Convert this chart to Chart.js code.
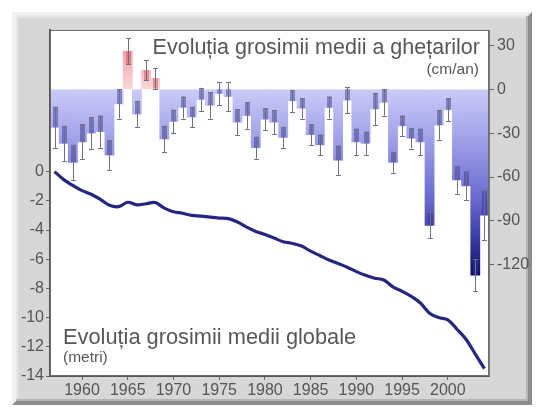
<!DOCTYPE html>
<html><head><meta charset="utf-8">
<script src="https://cdn.jsdelivr.net/npm/chart.js@4/dist/chart.umd.min.js"></script>
<style>
html,body{margin:0;padding:0;background:#fff;width:537px;height:410px;overflow:hidden;font-family:"Liberation Sans",Arial,sans-serif;}
#frame{position:absolute;left:12px;top:12px;width:512px;height:385px;background:#d7d7d7;border:4px solid;border-color:#f0f0f0 #8c8c8c #8c8c8c #f0f0f0;box-shadow:inset -2px -2px 0 #b5b5b5, inset 2px 2px 0 #e6e6e6;}
#wrap{position:absolute;left:0;top:0;width:537px;height:410px;}
.t{position:absolute;color:#575757;white-space:nowrap;line-height:1;}
</style></head><body>
<div id="frame"></div>
<div id="wrap"><canvas id="c" width="537" height="410"></canvas></div>
<div class="t" style="right:57px;top:37px;font-size:21.5px;">Evoluția grosimii medii a ghețarilor</div>
<div class="t" style="right:58px;top:61px;font-size:15.5px;">(cm/an)</div>
<div class="t" style="left:63px;top:326px;font-size:21.8px;">Evoluția grosimii medii globale</div>
<div class="t" style="left:63px;top:349px;font-size:15.5px;">(metri)</div>
<script>
const years = [];
for (let y = 1957; y <= 2004; y++) years.push(y);
// annual mean glacier thickness change (cm/an)
const balance = [-26,-37,-50,-36,-30,-29,-45,-10,26,-17,13,7.5,-34,-22,-12.5,-19,-7,-11,-3,-5,-22.5,-18,-40,-20.5,-22.5,-33,-8,-13,-31,-38,-12.5,-48.5,-7.5,-36,-37,-13.5,-9,-50,-25,-33.5,-36,-93,-24.5,-14,-62,-66,-127,-86];
// error half-widths (cm/an)
const balanceErr = [14,12,12,12,11,11,10,10,9,9,7,7,9,8,7.5,7,8,9,8,10,9,9,7.5,7.5,8,7,7.5,7,7,7,7.5,10,9,9,8,11,9,7,7,7,9,9,10,8,9.5,10,11,17];
// cumulative global mean thickness (metri)
const cumulative = [0,-0.55,-0.95,-1.3,-1.55,-1.9,-2.3,-2.4,-2.1,-2.28,-2.2,-2.12,-2.5,-2.75,-2.85,-3.0,-3.05,-3.12,-3.18,-3.22,-3.45,-3.8,-4.1,-4.3,-4.55,-4.8,-4.92,-5.1,-5.45,-5.75,-6.05,-6.3,-6.55,-6.85,-7.1,-7.3,-7.42,-7.9,-8.2,-8.55,-9.0,-9.7,-10.0,-10.15,-10.8,-11.5,-12.5,-13.5];
const leftTicks = [0,-2,-4,-6,-8,-10,-12,-14];
const rightTicks = [30,0,-30,-60,-90,-120];

function barColor(c){
  const ch = c.chart;
  if (!ch.chartArea) return '#aaaaee';
  const ys = ch.scales.y2;
  const v = c.raw;
  const y0 = ys.getPixelForValue(0);
  if (v >= 0){
    const g = ch.ctx.createLinearGradient(0, ys.getPixelForValue(30), 0, y0);
    g.addColorStop(0,'#f09ca2'); g.addColorStop(1,'#fcd6d8');
    return g;
  }
  const g = ch.ctx.createLinearGradient(0, y0, 0, ys.getPixelForValue(-130));
  g.addColorStop(0,'#cbcbf8');
  g.addColorStop(0.3,'#9a9ae6');
  g.addColorStop(0.55,'#6e6ed2');
  g.addColorStop(0.75,'#4242ae');
  g.addColorStop(1,'#0a0a66');
  return g;
}

const areaPlugin = {
  id:'area',
  beforeDraw(chart){
    const {ctx, chartArea:a} = chart;
    ctx.save(); ctx.fillStyle='#fff'; ctx.fillRect(a.left,a.top,a.right-a.left,a.bottom-a.top); ctx.restore();
  },
  afterDraw(chart){
    const {ctx, chartArea:a} = chart;
    ctx.save(); ctx.strokeStyle='#6e6e6e'; ctx.lineWidth=1;
    ctx.strokeRect(a.left+0.5,a.top+0.5,a.right-a.left-1,a.bottom-a.top-1); ctx.restore();
  }
};
const errPlugin = {
  id:'err',
  afterDatasetsDraw(chart){
    const meta = chart.getDatasetMeta(0);
    const ys = chart.scales.y2;
    const ctx = chart.ctx;
    ctx.save();
    meta.data.forEach((bar,i)=>{
      const v = balance[i], e = balanceErr[i];
      const x = Math.round(bar.x)+0.5;
      const yv = ys.getPixelForValue(v);
      const yt = ys.getPixelForValue(v+e), yb = ys.getPixelForValue(v-e);
      const yin = v < 0 ? ys.getPixelForValue(Math.min(v+e,0)) : ys.getPixelForValue(Math.max(v-e,0));
      ctx.fillStyle = v < 0 ? 'rgba(50,50,145,0.45)' : 'rgba(205,70,80,0.45)';
      ctx.fillRect(x-2.5, Math.min(yv,yin), 5, Math.abs(yin-yv));
      ctx.strokeStyle = '#707080'; ctx.lineWidth = 1;
      ctx.beginPath();
      ctx.moveTo(x,yt); ctx.lineTo(x,yb);
      ctx.moveTo(x-2.5,Math.round(yt)+0.5); ctx.lineTo(x+2.5,Math.round(yt)+0.5);
      ctx.moveTo(x-2.5,Math.round(yb)+0.5); ctx.lineTo(x+2.5,Math.round(yb)+0.5);
      ctx.stroke();
    });
    ctx.restore();
  }
};

const tickFont = {family:'"Liberation Sans", Arial, sans-serif', size:16};
new Chart(document.getElementById('c'), {
  data:{
    labels: years,
    datasets:[
      {type:'bar', data: balance, yAxisID:'y2', backgroundColor: barColor, borderWidth:0, barPercentage:1, categoryPercentage:1, order:2},
      {type:'line', data: cumulative, yAxisID:'y', borderColor:'#262682', borderWidth:3.2, pointRadius:0, tension:0.35, fill:false, order:1}
    ]
  },
  options:{
    responsive:false, animation:false,
    layout:{padding:{top:30,left:0,right:0,bottom:0}},
    plugins:{legend:{display:false}, tooltip:{enabled:false}},
    scales:{
      x:{type:'category', offset:true,
        grid:{display:true, drawOnChartArea:false, offset:false, tickLength:4, color:'#666'},
        border:{color:'#555', width:2},
        ticks:{autoSkip:false, maxRotation:0, minRotation:0, padding:1, color:'#555', font:tickFont,
          callback:(v,i)=> years[i]%5===0 ? String(years[i]) : null},
        afterFit:(s)=>{ s.height = 34; }
      },
      y:{type:'linear', position:'left', min:-14, max:9.7,
        ticks:{color:'#555', font:tickFont, padding:2},
        afterBuildTicks:(s)=>{ s.ticks = leftTicks.map(v=>({value:v})); },
        grid:{drawOnChartArea:false, tickLength:4, color:'#666'},
        border:{color:'#555', width:2},
        afterFit:(s)=>{ s.width = 50; }
      },
      y2:{type:'linear', position:'right', min:-196, max:40.5,
        ticks:{color:'#555', font:tickFont, padding:3},
        afterBuildTicks:(s)=>{ s.ticks = rightTicks.map(v=>({value:v})); },
        grid:{drawOnChartArea:false, tickLength:5, color:'#666'},
        border:{color:'#777', width:1},
        afterFit:(s)=>{ s.width = 48; }
      }
    }
  },
  plugins:[areaPlugin, errPlugin]
});
</script>
</body></html>
